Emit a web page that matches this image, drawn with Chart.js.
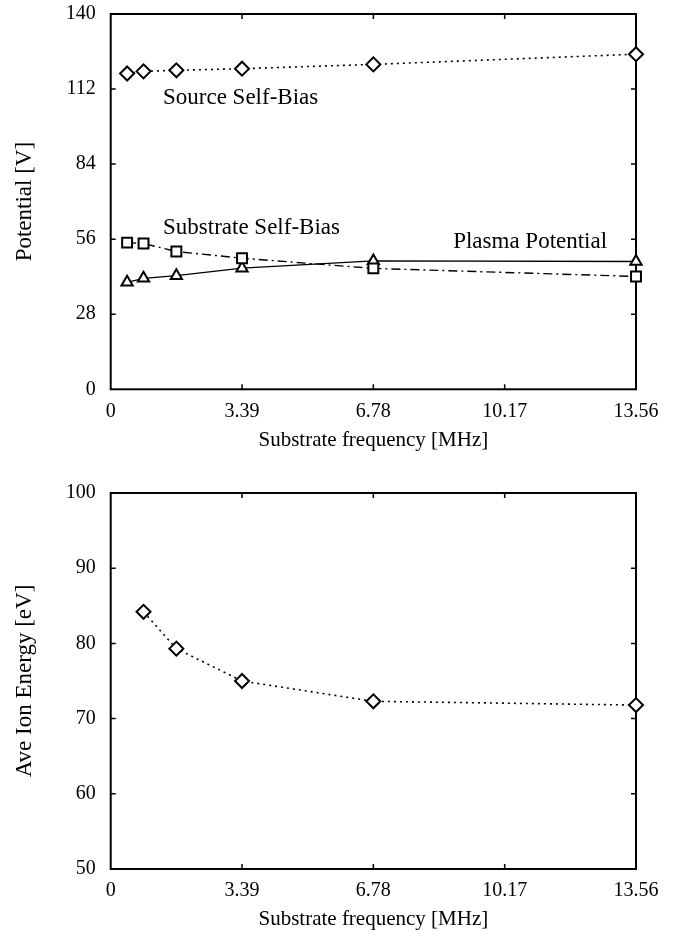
<!DOCTYPE html>
<html><head><meta charset="utf-8">
<script src="https://cdn.jsdelivr.net/npm/chart.js@4"></script>
<style>
html,body{margin:0;padding:0;background:#fff;overflow:hidden;}
#wrap{position:relative;width:678px;height:932px;background:#fff;overflow:hidden;}
.box{position:absolute;left:0;width:678px;}
canvas{display:block;}
</style></head><body>
<div id="wrap">
<div class="box" style="top:-13px;height:479px"><canvas id="c1" width="678" height="479"></canvas></div>
<div class="box" style="top:466px;height:466px"><canvas id="c2" width="678" height="466"></canvas></div>
</div>
<script>
// ---- data ----
const frequencies = [0.4237, 0.8475, 1.695, 3.39, 6.78, 13.56];
const sourceSelfBias = [117.8, 118.6, 119.0, 119.6, 121.2, 125.0];
const substrateSelfBias = [54.7, 54.4, 51.4, 48.9, 45.1, 42.1];
const plasmaPotential = [39.9, 41.4, 42.4, 45.2, 47.9, 47.7];
const ionFrequencies = [0.8475, 1.695, 3.39, 6.78, 13.56];
const aveIonEnergy = [84.2, 79.3, 75.0, 72.3, 71.8];
const xTickValues = [0, 3.39, 6.78, 10.17, 13.56];
const xTickLabels = ['0', '3.39', '6.78', '10.17', '13.56'];
const potentialTicks = [0, 28, 56, 84, 112, 140];
const energyTicks = [50, 60, 70, 80, 90, 100];
const xTitle = 'Substrate frequency [MHz]';

Chart.defaults.font.family = '"Liberation Serif", "Times New Roman", serif';
Chart.defaults.color = '#000';

const pts = (xs, ys) => xs.map((x, i) => ({x: x, y: ys[i]}));

const framePlugin = {
  id: 'frame',
  beforeDatasetsDraw(chart) {
    const {ctx, chartArea: a, scales} = chart;
    ctx.save();
    ctx.strokeStyle = '#000';
    ctx.lineWidth = 2;
    ctx.strokeRect(a.left, a.top, a.right - a.left, a.bottom - a.top);
    ctx.lineWidth = 1.5;
    const tl = 5;
    ctx.beginPath();
    scales.x.ticks.forEach(t => {
      const px = scales.x.getPixelForValue(t.value);
      if (px <= a.left + 1 || px >= a.right - 1) return;
      ctx.moveTo(px, a.bottom); ctx.lineTo(px, a.bottom - tl);
      ctx.moveTo(px, a.top); ctx.lineTo(px, a.top + tl);
    });
    scales.y.ticks.forEach(t => {
      const py = scales.y.getPixelForValue(t.value);
      if (py <= a.top + 1 || py >= a.bottom - 1) return;
      ctx.moveTo(a.left, py); ctx.lineTo(a.left + tl, py);
      ctx.moveTo(a.right, py); ctx.lineTo(a.right - tl, py);
    });
    ctx.stroke();
    ctx.restore();
  }
};

const textPlugin = {
  id: 'textLabels',
  afterDatasetsDraw(chart, args, opts) {
    const {ctx, scales} = chart;
    (opts.items || []).forEach(it => {
      ctx.save();
      ctx.fillStyle = '#000';
      ctx.font = '23px "Liberation Serif", serif';
      ctx.textAlign = 'left';
      ctx.textBaseline = 'middle';
      ctx.fillText(it.text, scales.x.getPixelForValue(it.x), scales.y.getPixelForValue(it.y));
      ctx.restore();
    });
  }
};

function makeChart(id, datasets, yTicks, yTitle, layoutTop, axisHeight, titlePadBottom, labels) {
  return new Chart(document.getElementById(id), {
    type: 'line',
    data: {datasets: datasets},
    options: {
      responsive: false,
      animation: false,
      devicePixelRatio: 1,
      layout: {padding: {top: layoutTop, right: 42, bottom: 0, left: 0}},
      plugins: {legend: {display: false}, tooltip: {enabled: false}, textLabels: {items: labels}},
      scales: {
        x: {
          type: 'linear', min: 0, max: 13.56,
          grid: {display: false, drawTicks: false},
          border: {display: false},
          afterBuildTicks: s => { s.ticks = xTickValues.map(v => ({value: v})); },
          afterFit: s => { s.height = axisHeight; },
          ticks: {padding: 10, font: {size: 20}, color: '#000', maxRotation: 0, autoSkip: false,
                  callback: (v, i) => xTickLabels[i]},
          title: {display: true, text: xTitle, font: {size: 21}, color: '#000',
                  padding: {top: 0, bottom: titlePadBottom}}
        },
        y: {
          type: 'linear', min: yTicks[0], max: yTicks[yTicks.length - 1],
          grid: {display: false, drawTicks: false},
          border: {display: false},
          afterBuildTicks: s => { s.ticks = yTicks.map(v => ({value: v})); },
          afterFit: s => { s.width = 110.7; },
          ticks: {padding: 15, font: {size: 20}, color: '#000', callback: v => String(v)},
          title: {display: true, text: yTitle, font: {size: 23}, color: '#000',
                  padding: {top: 11, bottom: 0}}
        }
      }
    },
    plugins: [framePlugin, textPlugin]
  });
}

const base = {borderColor: '#000', pointBorderColor: '#000', pointBackgroundColor: '#fff',
              tension: 0, clip: false, pointBorderWidth: 2};

makeChart('c1', [
  Object.assign({}, base, {label: 'Source Self-Bias', data: pts(frequencies, sourceSelfBias),
    borderWidth: 1.6, borderDash: [2, 4], pointStyle: 'rectRot', pointRadius: 7}),
  Object.assign({}, base, {label: 'Substrate Self-Bias', data: pts(frequencies, substrateSelfBias),
    borderWidth: 1.4, borderDash: [9, 4, 2, 4], pointStyle: 'rect', pointRadius: 7}),
  Object.assign({}, base, {label: 'Plasma Potential', data: pts(frequencies, plasmaPotential),
    borderWidth: 1.4, pointStyle: 'triangle', pointRadius: 6.5})
], potentialTicks, 'Potential [V]', 25.5, 76.7, 12.5, [
  {text: 'Source Self-Bias', x: 1.35, y: 108.6},
  {text: 'Substrate Self-Bias', x: 1.35, y: 60.2},
  {text: 'Plasma Potential', x: 8.84, y: 55.0}
]);

makeChart('c2', [
  Object.assign({}, base, {label: 'Ave Ion Energy', data: pts(ionFrequencies, aveIonEnergy),
    borderWidth: 1.6, borderDash: [2, 4], pointStyle: 'rectRot', pointRadius: 7})
], energyTicks, 'Ave Ion Energy [eV]', 25.7, 63, 0, []);
</script>
</body></html>
